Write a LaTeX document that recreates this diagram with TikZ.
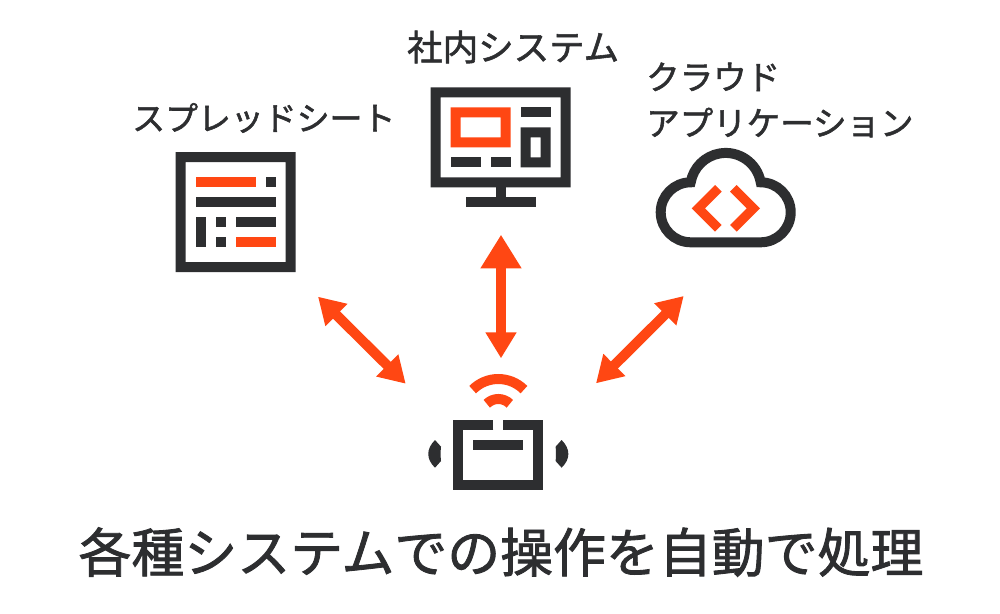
\documentclass[tikz,border=0pt]{standalone}
\usepackage{fontspec}
\usetikzlibrary{arrows.meta}
\setmainfont[FakeBold=1.6]{Noto Sans CJK JP}
\definecolor{ink}{HTML}{2D2E30}
\definecolor{hot}{HTML}{FF4713}
\tikzset{
  x=1pt,y=-1pt,
  inkfill/.style={fill=ink,draw=none},
  hotfill/.style={fill=hot,draw=none},
  inkline/.style={draw=ink,line width=10pt,line join=miter},
  hotline/.style={draw=hot,line width=10pt},
  label/.style={inner sep=0pt,anchor=west,align=left,font=\fontsize{33.5}{46}\selectfont,text=ink},
  title/.style={inner sep=0pt,anchor=center,font=\fontsize{52.9}{60}\selectfont,text=ink},
  link/.style={draw=hot,fill=hot,line width=10pt,{Triangle[length=26pt,width=29.5pt]}-{Triangle[length=26pt,width=29.5pt]}},
  linkbig/.style={draw=hot,fill=hot,line width=10pt,{Triangle[length=33.6pt,width=38.7pt]}-{Triangle[length=26pt,width=29.5pt]}}
}
\begin{document}
\begin{tikzpicture}
\useasboundingbox (0,0) rectangle (1000,613);
\fill[white] (0,0) rectangle (1000,613);
% spreadsheet
\path[inkfill,even odd rule] (175.5,152) rectangle (295.5,272) (185.5,162) rectangle (285.5,262);
\path[hotfill] (195.5,177.3) rectangle (255.5,187.3);
\path[inkfill] (265.5,177.3) rectangle (275.5,187.3);
\path[inkfill] (195.5,197.3) rectangle (275.5,207.3);
\path[inkfill] (195.5,217.3) rectangle (205.5,247.3);
\path[inkfill] (215.5,217.3) rectangle (225.5,227.3);
\path[inkfill] (235.5,217.3) rectangle (275.5,227.3);
\path[inkfill] (215.5,237.3) rectangle (225.5,247.3);
\path[hotfill] (235.5,237.3) rectangle (275.5,247.3);
% monitor
\path[inkfill,even odd rule] (430.5,87.3) rectangle (570.5,187.3) (440.5,97.3) rectangle (560.5,177.3);
\path[hotfill,even odd rule] (450.5,107.3) rectangle (510.5,147.3) (460.5,117.3) rectangle (500.5,137.3);
\path[inkfill] (520.5,107.3) rectangle (550.5,117.3);
\path[inkfill,even odd rule] (520.5,127.3) rectangle (550.5,167.3) (530.5,137.3) rectangle (540.5,157.3);
\path[inkfill] (450.5,157.3) rectangle (480.5,167.3);
\path[inkfill] (490.5,157.3) rectangle (510.5,167.3);
\path[inkfill] (495.5,187) rectangle (505.5,198);
\path[inkfill] (465.5,197.3) rectangle (535.5,207.3);
% cloud
\draw[inkline] (690.7,242.3) -- (760.7,242.3)
  arc[start angle=90,end angle=-90,radius=30]
  arc[start angle=-10,end angle=-170,radius=35.54]
  arc[start angle=-90,end angle=-270,radius=30] -- cycle;
\path[hotfill] (691.7,208.3) -- (715,185) -- (721.7,191.7) -- (705,208.3) -- (721.7,225) -- (715,231.7) -- cycle;
\path[hotfill] (760,208.3) -- (736.7,185) -- (730,191.7) -- (746.7,208.3) -- (730,225) -- (736.7,231.7) -- cycle;
% robot
\draw[inkline] (493.3,425) -- (458.3,425) -- (458.3,485) -- (538.3,485) -- (538.3,425) -- (503.3,425);
\path[inkfill] (473,440) rectangle (523.3,450);
\draw[hotline] (472.63,389.63) arc[start angle=-135,end angle=-45,radius=36.3];
\draw[hotline] (486.77,403.77) arc[start angle=-135,end angle=-45,radius=16.3];
\path[inkfill] (435,440) -- (441,446.7) .. controls (440.5,451) and (440.5,457) .. (441,461) -- (435,467.7) .. controls (426,459) and (426,449) .. cycle;
\path[inkfill] (561.6,440) -- (555.6,446.7) .. controls (556.1,451) and (556.1,457) .. (555.6,461) -- (561.6,467.7) .. controls (570.6,459) and (570.6,449) .. cycle;
% labels
\node[label,font=\fontsize{32.9}{46}\selectfont] (sheet) at (132,118) {スプレッドシート};
\node[label,font=\fontsize{35.5}{46}\selectfont] (system) at (407,47) {社内システム};
\node[label] (cloud) at (646,100) {クラウド\\アプリケーション};
\node[title] (caption) at (501,552) {各種システムでの操作を自動で処理};
% connectors
\coordinate (sheetend) at (318,296.7);
\coordinate (sheetbot) at (405.7,383.7);
\coordinate (sysend) at (501,234.7);
\coordinate (sysbot) at (501,358.3);
\coordinate (cloudend) at (683.7,296);
\coordinate (cloudbot) at (596,383.3);
\draw[link] (sheetend) -- (sheetbot);
\draw[linkbig] (sysend) -- (sysbot);
\draw[link] (cloudend) -- (cloudbot);
\end{tikzpicture}
\end{document}
